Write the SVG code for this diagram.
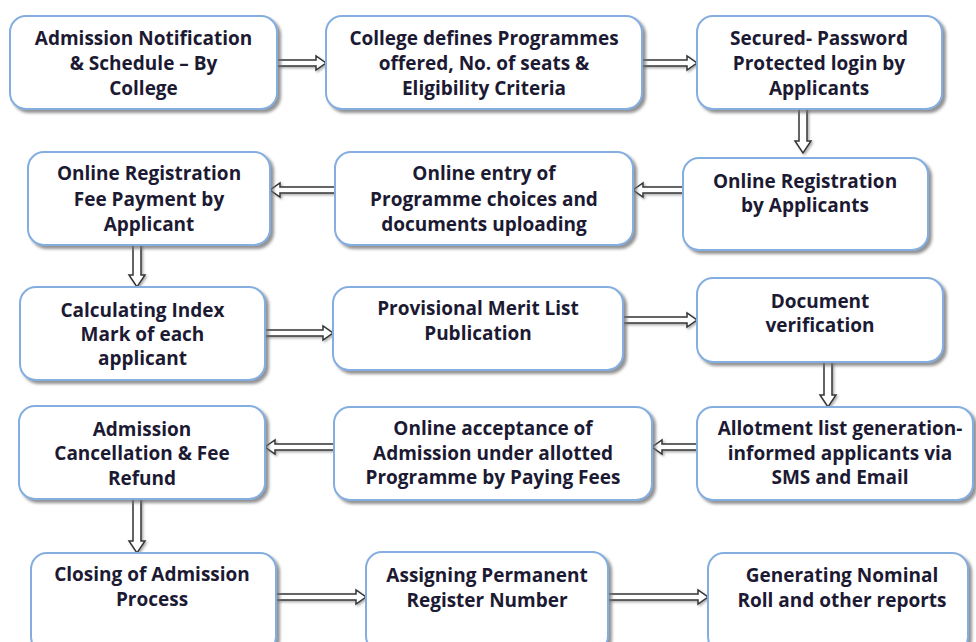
<svg xmlns="http://www.w3.org/2000/svg" width="976" height="642" viewBox="0 0 976 642">
<defs>
<filter id="sh" x="-10%" y="-10%" width="125%" height="130%">
<feDropShadow dx="3" dy="3" stdDeviation="1.8" flood-color="#6e6e6e" flood-opacity="0.75"/>
</filter>
<filter id="ash" x="-20%" y="-40%" width="150%" height="200%">
<feDropShadow dx="1.5" dy="1.5" stdDeviation="1" flood-color="#888" flood-opacity="0.7"/>
</filter>
</defs>
<style>
.box{fill:#ffffff;stroke:#84aee0;stroke-width:2;filter:url(#sh)}
.t{font-family:"Open Sans","Liberation Sans",sans-serif;font-weight:bold;font-size:19px;fill:#1c1a33;text-anchor:middle;dominant-baseline:central}
.arr{fill:#ffffff;stroke:#333333;stroke-width:1.5;stroke-linejoin:miter;filter:url(#ash)}
</style>
<rect width="976" height="642" fill="#ffffff"/>

<g id="connectors">
<path class="arr" d="M277,60 H316 V56 L326,63 L316,70 V66 H277 Z"/>
<path class="arr" d="M642,60 H687 V56 L697,63 L687,70 V66 H642 Z"/>
<path class="arr" d="M799,109 V141 H795 L803,153 L811,141 H807 V109 Z"/>
<path class="arr" d="M683,187 H643 V183 L633,190 L643,197 V193 H683 Z"/>
<path class="arr" d="M335,187 H280 V183 L270,190 L280,197 V193 H335 Z"/>
<path class="arr" d="M133,245 V275 H129 L137,287 L145,275 H141 V245 Z"/>
<path class="arr" d="M265,330 H323 V326 L333,333 L323,340 V336 H265 Z"/>
<path class="arr" d="M623,317 H687 V313 L697,320 L687,327 V323 H623 Z"/>
<path class="arr" d="M824,362 V395 H820 L828,407 L836,395 H832 V362 Z"/>
<path class="arr" d="M697,444 H662 V440 L652,447 L662,454 V450 H697 Z"/>
<path class="arr" d="M334,444 H275 V440 L265,447 L275,454 V450 H334 Z"/>
<path class="arr" d="M133,499 V541 H129 L137,553 L145,541 H141 V499 Z"/>
<path class="arr" d="M276,594 H356 V590 L366,597 L356,604 V600 H276 Z"/>
<path class="arr" d="M608,594 H698 V590 L708,597 L698,604 V600 H608 Z"/>
</g>

<g id="n1"><rect class="box" x="10" y="16" width="267" height="93" rx="16"/>
<text class="t" x="143.5" y="38">Admission Notification</text><text class="t" x="143.5" y="63">&amp; Schedule – By</text><text class="t" x="143.5" y="88">College</text></g>

<g id="n2"><rect class="box" x="326" y="16" width="316" height="93" rx="16"/>
<text class="t" x="484" y="38">College defines Programmes</text><text class="t" x="484" y="63">offered, No. of seats &amp;</text><text class="t" x="484" y="88">Eligibility Criteria</text></g>

<g id="n3"><rect class="box" x="697" y="16" width="245" height="93" rx="16"/>
<text class="t" x="819" y="38">Secured- Password</text><text class="t" x="819" y="63">Protected login by</text><text class="t" x="819" y="88">Applicants</text></g>

<g id="n4"><rect class="box" x="683" y="158" width="245" height="92" rx="16"/>
<text class="t" x="805" y="181">Online Registration</text><text class="t" x="805" y="205">by Applicants</text></g>

<g id="n5"><rect class="box" x="335" y="152" width="298" height="93" rx="16"/>
<text class="t" x="484" y="173">Online entry of</text><text class="t" x="484" y="199">Programme choices and</text><text class="t" x="484" y="224">documents uploading</text></g>

<g id="n6"><rect class="box" x="28" y="152" width="242" height="93" rx="16"/>
<text class="t" x="149" y="173">Online Registration</text><text class="t" x="149" y="199">Fee Payment by</text><text class="t" x="149" y="224">Applicant</text></g>

<g id="n7"><rect class="box" x="20" y="287" width="245" height="93" rx="16"/>
<text class="t" x="142.5" y="310">Calculating Index</text><text class="t" x="142.5" y="334">Mark of each</text><text class="t" x="142.5" y="358">applicant</text></g>

<g id="n8"><rect class="box" x="333" y="287" width="290" height="83" rx="16"/>
<text class="t" x="478" y="308">Provisional Merit List</text><text class="t" x="478" y="333">Publication</text></g>

<g id="n9"><rect class="box" x="697" y="278" width="246" height="84" rx="16"/>
<text class="t" x="820" y="301">Document</text><text class="t" x="820" y="325">verification</text></g>

<g id="n10"><rect class="box" x="334" y="407" width="318" height="93" rx="16"/>
<text class="t" x="493" y="428">Online acceptance of</text><text class="t" x="493" y="453">Admission under allotted</text><text class="t" x="493" y="477">Programme by Paying Fees</text></g>

<g id="n11"><rect class="box" x="697" y="407" width="276" height="93" rx="16"/>
<text class="t" x="840" y="428">Allotment list generation-</text><text class="t" x="840" y="453">informed applicants via</text><text class="t" x="840" y="477">SMS and Email</text></g>

<g id="n12"><rect class="box" x="19" y="406" width="246" height="93" rx="16"/>
<text class="t" x="142" y="429">Admission</text><text class="t" x="142" y="453">Cancellation &amp; Fee</text><text class="t" x="142" y="478">Refund</text></g>

<g id="n13"><rect class="box" x="31" y="553" width="245" height="100" rx="16"/>
<text class="t" x="152" y="574">Closing of Admission</text><text class="t" x="152" y="599">Process</text></g>

<g id="n14"><rect class="box" x="366" y="552" width="242" height="100" rx="16"/>
<text class="t" x="487" y="575">Assigning Permanent</text><text class="t" x="487" y="600">Register Number</text></g>

<g id="n15"><rect class="box" x="708" y="553" width="260" height="100" rx="16"/>
<text class="t" x="842" y="575">Generating Nominal</text><text class="t" x="842" y="600">Roll and other reports</text></g>
</svg>
